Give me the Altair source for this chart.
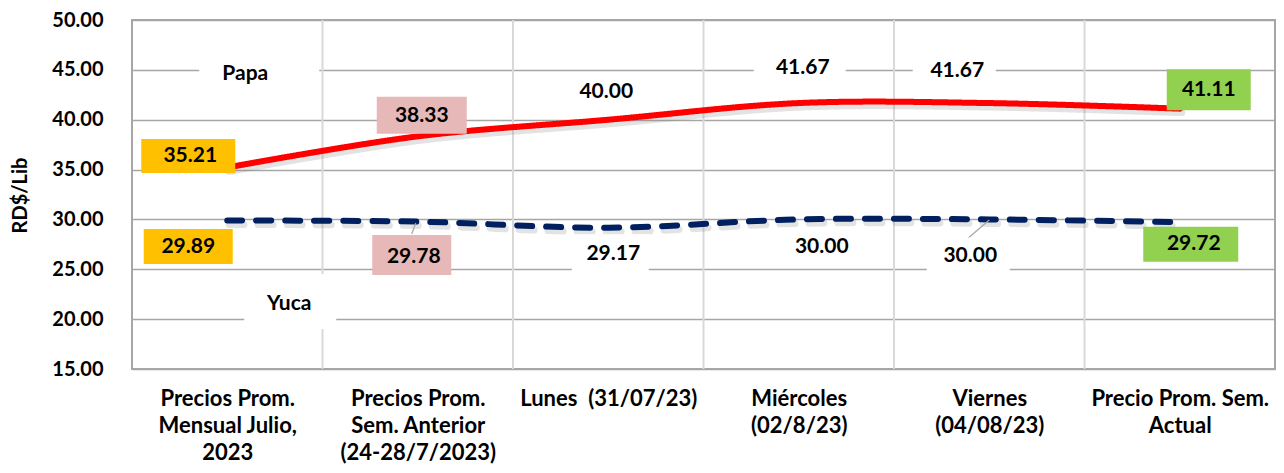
import json
import altair as alt
import pandas as pd

# ---------------- data ----------------
cat_lines = [
    ["Precios Prom.", "Mensual Julio,", "2023"],
    ["Precios Prom.", "Sem. Anterior", "(24-28/7/2023)"],
    ["Lunes\u00a0 (31/07/23)"],
    ["Miércoles", "(02/8/23)"],
    ["Viernes", "(04/08/23)"],
    ["Precio Prom. Sem.", "Actual"],
]
series_names = ["Papa", "Yuca"]
papa = [35.21, 38.33, 40.00, 41.67, 41.67, 41.11]
yuca = [29.89, 29.78, 29.17, 30.00, 30.00, 29.72]
y_ticks = [15, 20, 25, 30, 35, 40, 45, 50]
y_title = "RD$/Lib"

# ---------------- styles / layout ----------------
line_colors = ["#FF0000", "#002060"]
box_fills = ["#FFC000", "#E6B8B7", "#FFFFFF", "#FFFFFF", "#FFFFFF", "#92D050"]
FONT = "Lato"
W, H = 1143, 349
YMIN, YMAX = 15, 50
NCAT = len(cat_lines)
PXX = W / NCAT
PXY = H / (YMAX - YMIN)

# pixel offsets from each point: text dx, text dy, box dx, box dy, box w, box h
papa_layout = [
    (-37, -11.5, -39, -11.5, 94, 34),
    (4, -20, 4, -21, 90, 37),
    (-2, -28, 0, -28, 80, 34),
    (4, -35, 1, -35, 92, 34),
    (-32, -32, -35, -32, 83, 34),
    (29, -18.6, 29, -19, 84, 41),
]
yuca_layout = [
    (-39, 26, -39, 26, 89, 35),
    (-4, 35.4, -6, 33.4, 79, 40),
    (5, 26, 2, 25, 77, 37),
    (23, 28, 21, 26, 81, 36),
    (-19, 37, -21, 36, 83, 36),
    (14, 22, 11, 22, 95, 35),
]
# series name labels, offsets from the first point of each series
name_layout = [
    (18, -93.5, 32, -94.5, 120, 34),
    (62, 83.5, 63, 81, 92, 55),
]
# leader lines: (series index, category index, dx1, dy1, dx2, dy2)
leaders = [
    (1, 1, -2, 1.4, -6, 12.4),
    (1, 4, 0, 0.6, -21, 18.6),
]

# ---------------- tables ----------------
values = [papa, yuca]
line_rows = []
for s, name in enumerate(series_names):
    for i, v in enumerate(values[s]):
        line_rows.append({"x": i, "v": v, "series": name})
lines_df = pd.DataFrame(line_rows)


def place(i, v, lay, label, fill):
    tdx, tdy, bdx, bdy, bw, bh = lay
    return {
        "label": label,
        "fill": fill,
        "tx": i + tdx / PXX,
        "ty": v - tdy / PXY,
        "bx1": i + (bdx - bw / 2) / PXX,
        "bx2": i + (bdx + bw / 2) / PXX,
        "by1": v - (bdy - bh / 2) / PXY,
        "by2": v - (bdy + bh / 2) / PXY,
    }


label_rows = []
layouts = [papa_layout, yuca_layout]
for s in range(2):
    for i, v in enumerate(values[s]):
        label_rows.append(place(i, v, layouts[s][i], f"{v:.2f}", box_fills[i]))
    label_rows.append(place(0, values[s][0], name_layout[s], series_names[s], "#FFFFFF"))
labels_df = pd.DataFrame(label_rows)

lead_rows = []
for s, i, dx1, dy1, dx2, dy2 in leaders:
    v = values[s][i]
    lead_rows.append({"x1": i + dx1 / PXX, "y1": v - dy1 / PXY,
                      "x2": i + dx2 / PXX, "y2": v - dy2 / PXY})
lead_df = pd.DataFrame(lead_rows)

grid_df = pd.DataFrame({"g": [i + 0.5 for i in range(NCAT - 1)],
                        "lo": [YMIN] * (NCAT - 1), "hi": [YMAX] * (NCAT - 1)})

# ---------------- scales / axes ----------------
xscale = alt.Scale(domain=[-0.5, NCAT - 0.5], nice=False, zero=False)
yscale = alt.Scale(domain=[YMIN, YMAX], nice=False, zero=False)

label_expr = json.dumps(cat_lines, ensure_ascii=False) + "[datum.value]"
xaxis = alt.Axis(
    values=list(range(NCAT)), labelExpr=label_expr, grid=False, ticks=False,
    tickSize=0, domain=False, title=None, labelFont=FONT, labelFontWeight="bold",
    labelFontSize=22, labelColor="#000000", labelBaseline="top",
    labelLineHeight=27, labelPadding=19, labelAlign="center",
    labelFlush=False, labelOverlap=False, labelBound=False,
)
yaxis = alt.Axis(
    values=y_ticks, format=".2f", grid=True, gridColor="#A6A6A6", gridWidth=1.5,
    ticks=False, tickSize=0, domain=False, labelPadding=29, labelFont=FONT,
    labelFontWeight="bold", labelFontSize=20, labelColor="#000000", title=None,
)

# ---------------- layers ----------------
vgrid = alt.Chart(grid_df).mark_rule(color="#D9D9D9", strokeWidth=2).encode(
    x=alt.X("g:Q", scale=xscale, axis=xaxis),
    y=alt.Y("lo:Q", scale=yscale, axis=yaxis), y2="hi:Q",
)

ytitle = alt.Chart(pd.DataFrame({"t": [y_title]})).mark_text(
    font=FONT, fontWeight="bold", fontSize=20, color="#000000", angle=270,
    align="center", baseline="alphabetic",
).encode(x=alt.value(-105), y=alt.value(H / 2 + 1), text="t:N")

base_line = alt.Chart(lines_df)
dash_scale = alt.Scale(domain=series_names, range=[[1, 0], [15, 14]])
shadow = base_line.mark_line(
    interpolate="catmull-rom", strokeWidth=7, color="#7F7F7F", opacity=0.22,
    strokeCap="round",
).transform_calculate(
    sx=f"datum.x + 2/{PXX}", sv=f"datum.v - 4/{PXY}"
).encode(
    x=alt.X("sx:Q", scale=xscale, axis=xaxis),
    y=alt.Y("sv:Q", scale=yscale, axis=yaxis),
    detail="series:N",
    strokeDash=alt.StrokeDash("series:N", scale=dash_scale, legend=None),
)

lines = base_line.mark_line(
    interpolate="catmull-rom", strokeWidth=6, strokeCap="round",
).encode(
    x=alt.X("x:Q", scale=xscale, axis=xaxis),
    y=alt.Y("v:Q", scale=yscale, axis=yaxis),
    color=alt.Color("series:N", scale=alt.Scale(domain=series_names, range=line_colors), legend=None),
    strokeDash=alt.StrokeDash("series:N", scale=dash_scale, legend=None),
)

lead = alt.Chart(lead_df).mark_rule(color="#A6A6A6", strokeWidth=1.2).encode(
    x=alt.X("x1:Q", scale=xscale, axis=xaxis), x2="x2:Q",
    y=alt.Y("y1:Q", scale=yscale, axis=yaxis), y2="y2:Q",
)

boxes = alt.Chart(labels_df).mark_rect(strokeWidth=0).encode(
    x=alt.X("bx1:Q", scale=xscale, axis=xaxis), x2="bx2:Q",
    y=alt.Y("by1:Q", scale=yscale, axis=yaxis), y2="by2:Q",
    fill=alt.Fill("fill:N", scale=None),
)

texts = alt.Chart(labels_df).mark_text(
    font=FONT, fontWeight="bold", fontSize=21, color="#000000",
    align="center", baseline="middle",
).encode(
    x=alt.X("tx:Q", scale=xscale, axis=xaxis),
    y=alt.Y("ty:Q", scale=yscale, axis=yaxis),
    text="label:N",
)

chart = alt.layer(vgrid, shadow, lines, lead, boxes, texts, ytitle).properties(
    width=W, height=H,
    autosize=alt.AutoSizeParams(type="none"),
    padding={"left": 124, "top": 12, "right": 1, "bottom": 95},
    background="#FFFFFF",
).configure_view(stroke="#A6A6A6", strokeWidth=2)

chart.save("out.html", embed_options={"renderer": "svg", "actions": False})
